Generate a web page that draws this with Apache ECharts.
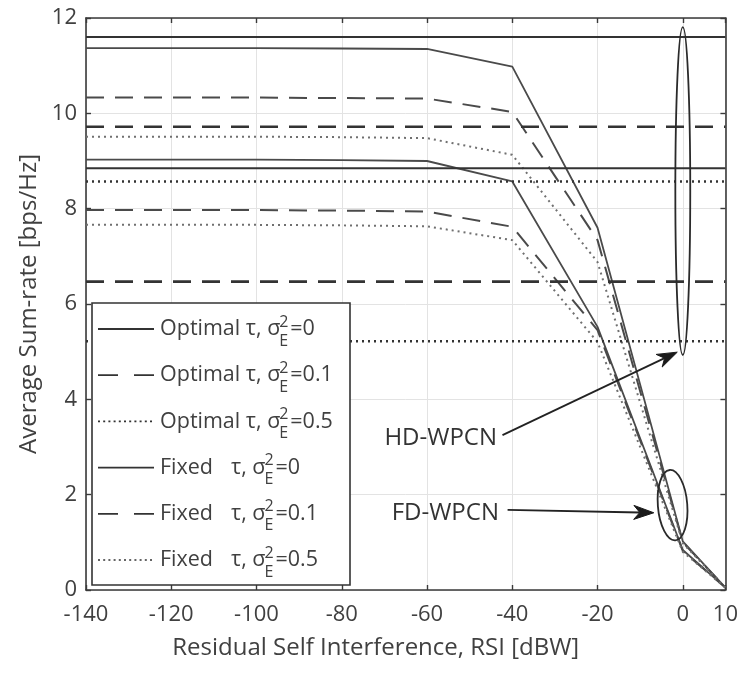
<!DOCTYPE html>
<html><head><meta charset="utf-8">
<script src="https://cdn.jsdelivr.net/npm/echarts@6/dist/echarts.min.js"></script>
<style>html,body{margin:0;padding:0;background:#fff}#c{width:741px;height:675px}</style>
</head><body><div id="c"></div>
<script>
// ---------- data ----------
const rsi = [-140, -120, -100, -80, -60, -40, -20, 0, 10];
// FD-WPCN curves
const fdOptimal0  = [11.37, 11.37, 11.37, 11.36, 11.35, 10.98, 7.60, 1.02, 0.05];
const fdOptimal01 = [10.33, 10.33, 10.33, 10.32, 10.31, 10.03, 7.34, 1.00, 0.05];
const fdOptimal05 = [9.51, 9.51, 9.51, 9.50, 9.48, 9.13, 6.88, 0.98, 0.05];
const fdFixed0    = [9.03, 9.03, 9.03, 9.02, 9.00, 8.57, 5.52, 0.84, 0.05];
const fdFixed01   = [7.97, 7.97, 7.97, 7.96, 7.94, 7.62, 5.45, 0.82, 0.05];
const fdFixed05   = [7.66, 7.66, 7.66, 7.65, 7.63, 7.34, 5.20, 0.80, 0.05];
// HD-WPCN constant levels
const hdRange = [-140, 10];
const hdOptimal = [11.60, 9.72, 8.57];
const hdFixed   = [8.85, 6.47, 5.22];
// legend texts
const legendPrefix = ['Optimal', 'Optimal', 'Optimal', 'Fixed', 'Fixed', 'Fixed'];
const legendSigma  = ['0', '0.1', '0.5', '0', '0.1', '0.5'];
const xName = 'Residual Self Interference, RSI [dBW]';
const yName = 'Average Sum-rate [bps/Hz]';
const annoLabels = ['HD-WPCN', 'FD-WPCN'];

// ---------- styles ----------
const FONT = "'Open Sans', 'Noto Sans', sans-serif";
const TXT = '#404040';
const AX = '#3a3a3a';
const styles = {
  solid:  {type: 'solid', width: 1.8},
  dashed: {type: [18, 11], width: 2},
  dotted: {type: [2, 4], width: 2}
};
const lineKinds = ['solid', 'dashed', 'dotted', 'solid', 'dashed', 'dotted'];

function lineSeries(name, data, kind, color, width) {
  const s = styles[kind];
  return {
    type: 'line', name, data, symbol: 'none', showSymbol: false, silent: true,
    animation: false, clip: true,
    lineStyle: {color, width: width || s.width, type: s.type, cap: 'butt'}, z: 3
  };
}
const fdSets = [fdOptimal0, fdOptimal01, fdOptimal05, fdFixed0, fdFixed01, fdFixed05];
const series = [];
fdSets.forEach((vals, i) => {
  series.push(lineSeries(legendPrefix[i] + ' FD ' + legendSigma[i], rsi.map((x, k) => [x, vals[k]]), lineKinds[i], i === 2 || i === 5 ? '#707070' : '#4a4a4a'));
});
const hdLevels = hdOptimal.concat(hdFixed);
hdLevels.forEach((v, i) => {
  series.push(lineSeries(legendPrefix[i] + ' HD ' + legendSigma[i], hdRange.map(x => [x, v]), lineKinds[i], '#333333', lineKinds[i] === 'solid' ? 2 : 2.6));
});

// annotation geometry (data coordinates)
const anno = {
  ellipses: [
    {c: [0, 8.37], rx: 1.75, ry: 3.44, rot: 0},
    {c: [-2.4, 1.78], rx: 3.45, ry: 0.74, rot: 0.08}
  ],
  arrows: [
    {from: [-42.3, 3.25], to: [-1.3, 4.99]},
    {from: [-41.1, 1.68], to: [-6.8, 1.62]}
  ],
  labels: [[-70.0, 3.19], [-68.3, 1.62]]
};

series.push({
  type: 'custom', silent: true, animation: false, z: 10, clip: false,
  data: [[0, 0]],
  renderItem: function (params, api) {
    const ch = [];
    anno.ellipses.forEach(e => {
      const c = api.coord(e.c);
      const sz = api.size([e.rx, e.ry]);
      ch.push({type: 'ellipse', shape: {cx: 0, cy: 0, rx: sz[0], ry: sz[1]}, x: c[0], y: c[1], rotation: e.rot,
        style: {fill: 'none', stroke: '#2a2a2a', lineWidth: 1.8}});
    });
    anno.arrows.forEach(a => {
      const p0 = api.coord(a.from), p1 = api.coord(a.to);
      const dx = p1[0] - p0[0], dy = p1[1] - p0[1];
      const L = Math.hypot(dx, dy), ux = dx / L, uy = dy / L, nx = -uy, ny = ux;
      const hl = 20, hw = 7, notch = 14;
      const b = [p1[0] - ux * hl, p1[1] - uy * hl];
      const m = [p1[0] - ux * notch, p1[1] - uy * notch];
      ch.push({type: 'line', shape: {x1: p0[0], y1: p0[1], x2: m[0], y2: m[1]}, style: {stroke: '#222', lineWidth: 1.8}});
      ch.push({type: 'polygon', shape: {points: [p1, [b[0] + nx * hw, b[1] + ny * hw], m, [b[0] - nx * hw, b[1] - ny * hw]]},
        style: {fill: '#1a1a1a', stroke: '#1a1a1a', lineWidth: 1}});
    });
    anno.labels.forEach((p, i) => {
      const c = api.coord(p);
      ch.push({type: 'text', x: c[0], y: c[1], style: {text: annoLabels[i], fill: '#333', font: '24px ' + FONT, align: 'left', verticalAlign: 'middle'}});
    });
    return {type: 'group', children: ch};
  }
});

// ---------- legend (graphic) ----------
const ctx = document.createElement('canvas').getContext('2d');
function tw(t, size) { ctx.font = size + 'px ' + FONT; return ctx.measureText(t).width; }
const LG = {x: 92, y: 303, w: 258, h: 282, row0: 329, rowStep: 46.2, lx0: 98, lx1: 154, tx: 160, fixTau: 231, fs: 21.5, sfs: 16};
const graphics = [{type: 'rect', shape: {x: LG.x, y: LG.y, width: LG.w, height: LG.h}, style: {fill: '#fff', stroke: '#333', lineWidth: 1.6}, z: 100}];
legendPrefix.forEach((pre, i) => {
  const y = LG.row0 + i * LG.rowStep;
  const kind = lineKinds[i];
  const dash = kind === 'solid' ? null : (kind === 'dashed' ? [20, 16] : [2, 3.2]);
  graphics.push({type: 'line', shape: {x1: LG.lx0, y1: y, x2: LG.lx1, y2: y}, style: {stroke: '#333', lineWidth: kind === 'dotted' ? 1.6 : 1.8, lineDash: dash}, z: 101});
  let endX;
  if (pre === 'Optimal') {
    const t = pre + ' τ, σ';
    graphics.push({type: 'text', x: LG.tx, y: y, style: {text: t, fill: TXT, font: LG.fs + 'px ' + FONT, align: 'left', verticalAlign: 'middle'}, z: 101});
    endX = LG.tx + tw(t, LG.fs);
  } else {
    graphics.push({type: 'text', x: LG.tx, y: y, style: {text: pre, fill: TXT, font: LG.fs + 'px ' + FONT, align: 'left', verticalAlign: 'middle'}, z: 101});
    const t2 = 'τ, σ';
    graphics.push({type: 'text', x: LG.fixTau, y: y, style: {text: t2, fill: TXT, font: LG.fs + 'px ' + FONT, align: 'left', verticalAlign: 'middle'}, z: 101});
    endX = LG.fixTau + tw(t2, LG.fs);
  }
  graphics.push({type: 'text', x: endX - 1, y: y - 7, style: {text: '2', fill: TXT, font: LG.sfs + 'px ' + FONT, align: 'left', verticalAlign: 'middle'}, z: 101});
  graphics.push({type: 'text', x: endX - 1, y: y + 12, style: {text: 'E', fill: TXT, font: LG.sfs + 'px ' + FONT, align: 'left', verticalAlign: 'middle'}, z: 101});
  graphics.push({type: 'text', x: endX + 10, y: y, style: {text: '=' + legendSigma[i], fill: TXT, font: LG.fs + 'px ' + FONT, align: 'left', verticalAlign: 'middle'}, z: 101});
});

// ---------- chart ----------
const axisCommon = {
  axisLine: {show: true, onZero: false, lineStyle: {color: AX, width: 1.6}},
  axisTick: {show: true, inside: true, length: 5, lineStyle: {color: AX, width: 1.4}}
};
const chart = echarts.init(document.getElementById('c'));
chart.setOption({
  animation: false,
  backgroundColor: '#fff',
  grid: {left: 86, right: 14, top: 18, bottom: 85, containLabel: false},
  xAxis: [
    Object.assign({type: 'value', min: -140, max: 10, interval: 20, position: 'bottom',
      axisLabel: {color: TXT, fontSize: 22, fontFamily: FONT, margin: 14, showMaxLabel: true, showMinLabel: true},
      splitLine: {show: true, lineStyle: {color: '#e3e3e3', width: 1}},
      name: xName, nameLocation: 'middle', nameGap: 46,
      nameTextStyle: {color: TXT, fontSize: 24, fontFamily: FONT, padding: [0, 60, 0, 0]}}, axisCommon),
    Object.assign({type: 'value', min: -140, max: 10, interval: 20, position: 'top',
      axisLabel: {show: false}, splitLine: {show: false}}, axisCommon)
  ],
  yAxis: [
    Object.assign({type: 'value', min: 0, max: 12, interval: 2, position: 'left',
      axisLabel: {color: TXT, fontSize: 22, fontFamily: FONT, margin: 9},
      splitLine: {show: true, lineStyle: {color: '#e3e3e3', width: 1}},
      name: yName, nameLocation: 'middle', nameGap: 43,
      nameTextStyle: {color: TXT, fontSize: 24, fontFamily: FONT}}, axisCommon),
    Object.assign({type: 'value', min: 0, max: 12, interval: 2, position: 'right',
      axisLabel: {show: false}, splitLine: {show: false}}, axisCommon)
  ],
  legend: {show: false},
  series: series,
  graphic: graphics
});
</script>
</body></html>
